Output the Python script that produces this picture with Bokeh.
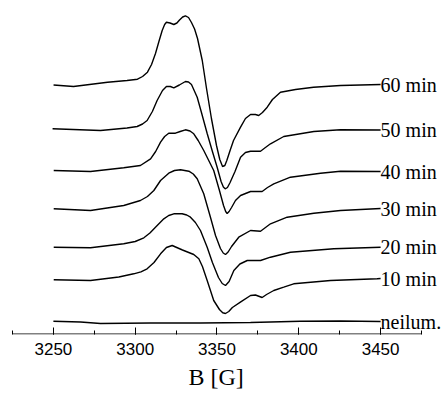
from bokeh.plotting import figure
from bokeh.models import Range1d, SingleIntervalTicker, Label, Title
from bokeh.embed import file_html
from bokeh.resources import INLINE

# ---- data (B in Gauss, intensity in arbitrary units relative to each trace's baseline) ----
labels = ["neilum.", "10 min", "20 min", "30 min", "40 min", "50 min", "60 min"]
offsets = [0, 42, 74, 113, 150, 192, 237]

b_neilum = [3250, 3266.6, 3278.8, 3309.4, 3339.9, 3370.5, 3401, 3425.5, 3450]
i_neilum = [0.3, -0.5, -2.0, -1.5, -1.5, -1.0, 0.3, 0.5, 0.0]

b_10 = [3250.2, 3272.7, 3290.0, 3299.1, 3303.5, 3307.3, 3311.5, 3315.5, 3319.1, 3322.6,
        3328.9, 3335.8, 3338.9, 3341.1, 3344.0, 3348.0, 3351.5, 3353.5, 3355.2, 3357.2,
        3359.4, 3364.3, 3370.5, 3373.5, 3377.6, 3380.3, 3384.7, 3390.8, 3396.9, 3419.4,
        3447.9, 3450]
i_10 = [-0.3, -1.0, 2.5, 5.7, 7.7, 10.7, 17.0, 25.7, 32.0, 34.0,
        29.5, 25.0, 20.7, 13.0, -1.0, -21.0, -30.0, -33.3, -34.0, -32.0,
        -28.0, -22.7, -16.0, -15.5, -18.0, -15.0, -11.0, -7.7, -4.3, -1.0,
        0.7, 1.0]

b_20 = [3250.2, 3272.7, 3293.0, 3300.0, 3305.3, 3309.0, 3312.4, 3317.5, 3320.5, 3323.6,
        3328.7, 3331.5, 3333.8, 3336.8, 3339.9, 3344.0, 3347.2, 3350.9, 3353.2, 3355.2,
        3357.4, 3360.3, 3364.0, 3368.5, 3376.6, 3382.7, 3394.9, 3421.4, 3450]
i_20 = [0.3, -0.3, 3.7, 6.0, 9.7, 14.5, 20.3, 28.7, 32.0, 33.7,
        33.7, 32.5, 30.3, 25.0, 17.0, 0.3, -15.0, -30.0, -36.0, -38.0,
        -34.0, -23.0, -16.5, -13.0, -13.0, -9.7, -4.7, -1.3, 0.3]

b_30 = [3250.2, 3272.7, 3293.0, 3303.2, 3307.5, 3311.4, 3315.5, 3320.5, 3324.0, 3327.7,
        3332.8, 3335.5, 3337.9, 3341.9, 3346.0, 3349.1, 3352.1, 3353.8, 3355.2, 3356.8,
        3358.9, 3363.3, 3370.5, 3376.6, 3382.7, 3392.9, 3409.2, 3425.5, 3450]
i_30 = [-0.3, -2.0, 3.0, 8.0, 12.0, 18.0, 28.0, 35.3, 38.0, 38.7,
        37.3, 34.5, 29.7, 14.7, -8.7, -27.0, -40.0, -44.5, -46.0, -43.5,
        -38.0, -28.7, -22.0, -22.7, -15.3, -8.7, -4.7, -2.0, 0.0]

b_40 = [3250.2, 3272.7, 3293.0, 3303.2, 3309.4, 3312.5, 3315.5, 3318.0, 3320.5, 3324.6,
        3327.5, 3330.7, 3333.5, 3335.8, 3338.5, 3341.9, 3348.0, 3351.5, 3354.0, 3355.3,
        3356.2, 3357.4, 3358.9, 3361.3, 3364.4, 3370.5, 3377.6, 3380.9, 3384.7, 3394.9,
        3413.3, 3425.5, 3450]
i_40 = [1.0, 0.0, 3.7, 6.0, 12.7, 20.0, 29.3, 35.0, 38.3, 38.3,
        40.0, 41.7, 40.5, 37.7, 31.0, 21.0, 1.0, -19.0, -34.0, -40.0,
        -42.0, -40.0, -36.0, -29.0, -24.0, -20.0, -20.0, -16.0, -12.3, -5.7,
        -1.7, 0.3, 0.0]

b_50 = [3249.5, 3278.8, 3295.0, 3301.2, 3304.5, 3307.3, 3310.5, 3313.4, 3316.7, 3319.1,
        3321.5, 3323.6, 3327.0, 3330.7, 3332.6, 3334.4, 3337.9, 3340.5, 3344.0, 3347.2,
        3350.1, 3352.5, 3353.9, 3355.0, 3356.4, 3358.0, 3361.0, 3364.4, 3367.4, 3370.5,
        3376.6, 3379.6, 3382.7, 3390.8, 3409.2, 3425.5, 3450]
i_50 = [0.7, -1.0, 1.5, 3.0, 5.5, 9.0, 18.0, 29.0, 39.0, 43.0,
        43.0, 41.7, 44.5, 48.0, 47.5, 45.0, 32.3, 17.0, -4.0, -22.0,
        -37.7, -52.0, -57.5, -59.3, -58.0, -53.0, -42.0, -27.7, -23.0, -21.7,
        -21.7, -18.0, -14.3, -7.0, -2.0, -0.3, -0.5]

b_60 = [3250.1, 3262.3, 3283.1, 3295.0, 3301.4, 3304.5, 3307.5, 3310.0, 3312.4, 3314.5,
        3316.5, 3318.0, 3319.1, 3321.3, 3323.6, 3325.5, 3327.1, 3329.0, 3330.7, 3332.6,
        3334.4, 3336.3, 3338.1, 3341.0, 3343.6, 3346.6, 3349.7, 3351.7, 3353.4, 3354.8,
        3356.0, 3358.0, 3360.1, 3364.4, 3367.4, 3370.5, 3373.5, 3375.5, 3377.8, 3380.7,
        3383.9, 3388.8, 3398.0, 3409.0, 3425.5, 3450]
i_60 = [-0.5, -2.0, 2.3, 4.0, 5.3, 8.0, 12.3, 20.0, 31.0, 43.0,
        54.0, 60.0, 62.3, 61.5, 60.0, 61.5, 64.5, 67.5, 68.7, 67.0,
        62.0, 55.5, 46.0, 24.0, -4.0, -34.0, -61.0, -75.0, -82.0, -81.0,
        -76.0, -66.0, -56.0, -42.7, -34.0, -30.0, -30.0, -31.0, -28.0, -22.7,
        -15.0, -7.7, -5.0, -2.7, -1.0, 0.0]

tick_interval = 50
x_label = "B [G]"
axis_start, axis_end = 3225, 3475

series_b = [b_neilum, b_10, b_20, b_30, b_40, b_50, b_60]
series_i = [i_neilum, i_10, i_20, i_30, i_40, i_50, i_60]

p = figure(width=443, height=397, output_backend="svg", toolbar_location=None,
           x_range=Range1d(3217.67, 3488.45), y_range=Range1d(-13, 321),
           y_axis_location=None, min_border_left=0, min_border_right=0,
           min_border_top=0, min_border_bottom=63)
p.outline_line_color = None
p.xgrid.visible = False
p.ygrid.visible = False
p.background_fill_color = "white"
p.border_fill_color = "white"

for bs, ins, off, lab in zip(series_b, series_i, offsets, labels):
    p.line(bs, [v + off for v in ins], line_color="black", line_width=1.4)
    p.add_layout(Label(x=bs[-1], y=ins[-1] + off, text=lab, text_font="Liberation Serif",
                       text_font_size="20px", text_color="black", text_align="left",
                       text_baseline="middle"))

# visible axis line only between axis_start and axis_end
p.line([axis_start, axis_end], [-12.5, -12.5], line_color="black", line_width=1)

ax = p.xaxis[0]
ax.ticker = SingleIntervalTicker(interval=tick_interval, num_minor_ticks=2)
ax.axis_line_color = None
ax.major_tick_in = 7
ax.major_tick_out = 0
ax.minor_tick_in = 4
ax.minor_tick_out = 0
ax.major_tick_line_color = "black"
ax.minor_tick_line_color = "black"
ax.major_label_text_font = "Liberation Sans"
ax.major_label_text_font_size = "17px"
ax.major_label_text_color = "black"
ax.major_label_standoff = 8

p.add_layout(Title(text=x_label, align="left", offset=188, standoff=9,
                   text_font="Liberation Serif", text_font_size="24px",
                   text_font_style="normal", text_color="black"), "below")

open("out.html", "w").write(file_html(p, INLINE))
